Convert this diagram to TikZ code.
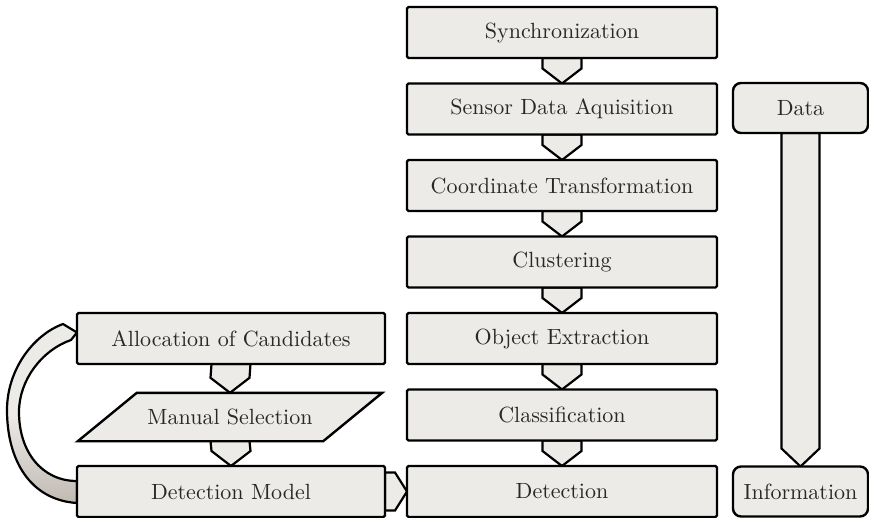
\documentclass[tikz,border=0pt]{standalone}
\usepackage{graphicx}
\usetikzlibrary{calc}
\pgfdeclarelayer{bg}
\pgfsetlayers{bg,main}
\definecolor{boxfill}{RGB}{237,235,231}
\definecolor{boxdark}{RGB}{192,186,179}
\definecolor{txt}{RGB}{40,40,40}
\newcommand\lbl[1]{\scalebox{2.2}{\fontsize{10}{12}\selectfont #1}}
\begin{document}
\begin{tikzpicture}[x=1pt,y=-1pt,
  every node/.style={text=txt},
  box/.style={draw=black, line width=2.4pt, fill=boxfill, rounded corners=1.5pt,
    minimum width=310pt, minimum height=51pt, inner sep=0pt, outer sep=0pt},
  lbox/.style={box, minimum width=308pt},
  rbox/.style={box, minimum width=135pt, minimum height=50pt, rounded corners=8pt},
  conn/.style={draw=black, line width=2.2pt, fill=boxfill, line join=miter},
]
\useasboundingbox (0,0) rectangle (869,517);
% central column
\node[box] (sync) at (562,32.5) {\lbl{Synchronization}};
\node[box] (sda)  at (562,109) {\lbl{Sensor Data Aquisition}};
\node[box] (ct)   at (562,185.5) {\lbl{Coordinate Transformation}};
\node[box] (clu)  at (562,262) {\lbl{Clustering}};
\node[box] (oe)   at (562,338.5) {\lbl{Object Extraction}};
\node[box] (cla)  at (562,415) {\lbl{Classification}};
\node[box] (det)  at (562,491.5) {\lbl{Detection}};
% left column
\node[lbox] (alloc) at (231,338.5) {\lbl{Allocation of Candidates}};
\node[inner sep=0pt, minimum width=304pt, minimum height=48pt] (ms) at (230,417) {\lbl{Manual Selection}};
\node[lbox] (dm) at (231,491.5) {\lbl{Detection Model}};
% right column
\node[rbox] (data) at (800.5,108) {\lbl{Data}};
\node[rbox] (info) at (800.5,491.5) {\lbl{Information}};

\begin{pgfonlayer}{bg}
  % manual selection parallelogram
  \filldraw[conn, line width=2.4pt] (ms.south west) -- ($(ms.south east)+(-59,0)$) -- (ms.north east) -- ($(ms.north west)+(59,0)$) -- cycle;
  % vertical connectors
  \foreach \a/\b in {sync/sda, sda/ct, ct/clu, clu/oe, oe/cla, cla/det, alloc/ms, ms/dm}{
    \filldraw[conn] ($(\a.south)+(-19.5,0)$) -- ($(\b.north)+(-19.5,-15)$) -- (\b.north)
      -- ($(\b.north)+(19.5,-15)$) -- ($(\a.south)+(19.5,0)$) -- cycle;
  }
  % data bar
  \filldraw[conn] ($(data.south)+(-19,0)$) -- ($(info.north)+(-19,-18)$) -- (info.north)
    -- ($(info.north)+(19,-18)$) -- ($(data.south)+(19,0)$) -- cycle;
  % horizontal connector
  \filldraw[conn] ($(dm.east)+(0,-19)$) -- ($(dm.east)+(10,-19)$) -- (det.west)
    -- ($(dm.east)+(10,19)$) -- ($(dm.east)+(0,19)$) -- cycle;
  % feedback curve
  \coordinate (c1) at ($(dm.west)+(0,11.5)$);
  \coordinate (c2) at ($(dm.west)+(0,-10.5)$);
  \coordinate (tip) at ($(alloc.west)+(0,-6)$);
  \draw[line width=2.2pt, line join=miter, top color=boxfill, bottom color=boxdark, middle color=boxfill]
    (c1) .. controls (30,500) and (7,460) .. (7,410)
    .. controls (7,370) and (33,335) .. (63,324)
    -- (tip)
    -- (71,340) .. controls (42,350) and (19,380) .. (19,412)
    .. controls (19,452) and (42,481) .. (c2) -- cycle;
\end{pgfonlayer}
\end{tikzpicture}
\end{document}
